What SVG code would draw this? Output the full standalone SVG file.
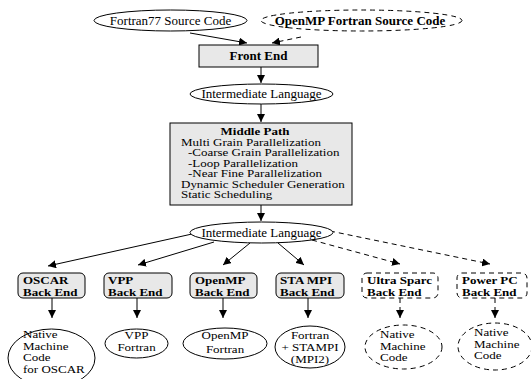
<svg xmlns="http://www.w3.org/2000/svg" width="531" height="379" viewBox="0 0 531 379">
<style>
text{font-family:"Liberation Serif","Times New Roman",serif;font-size:13px;fill:#000}
.b{font-weight:bold}
.c{text-anchor:middle}
.sh{fill:#fff;stroke:#000;stroke-width:1}
.g{fill:#e8e8e8;stroke:#000;stroke-width:1}
.d{stroke-dasharray:5,4}
.ln{stroke:#000;stroke-width:1;fill:none;marker-end:url(#ah)}
</style>
<defs>
<marker id="ah" viewBox="0 0 8 8" refX="8" refY="4" markerWidth="8" markerHeight="8" markerUnits="userSpaceOnUse" orient="auto">
<path d="M0,0 L8,4 L0,8 z" fill="#000"/>
</marker>
</defs>
<rect width="531" height="379" fill="#fff"/>
<g id="connectors">
<line class="ln" x1="190" y1="33" x2="247" y2="43"/>
<line class="ln d" x1="301" y1="37" x2="272" y2="43"/>
<line class="ln" x1="261" y1="67" x2="261" y2="83"/>
<line class="ln" x1="261" y1="104" x2="261" y2="122"/>
<line class="ln" x1="261" y1="205" x2="261" y2="221"/>
<line class="ln" x1="192" y1="234" x2="48" y2="266"/>
<line class="ln" x1="214" y1="242" x2="138" y2="265"/>
<line class="ln" x1="250" y1="243" x2="223" y2="265"/>
<line class="ln" x1="278" y1="243" x2="304" y2="265"/>
<line class="ln d" x1="312" y1="240" x2="400" y2="264"/>
<line class="ln d" x1="330" y1="231" x2="490" y2="264"/>
<line class="ln" x1="52" y1="298" x2="52" y2="318"/>
<line class="ln" x1="137" y1="298" x2="137" y2="318"/>
<line class="ln" x1="223" y1="298" x2="223" y2="318"/>
<line class="ln" x1="308" y1="298" x2="308" y2="318"/>
<line class="ln d" x1="400" y1="298" x2="400" y2="318"/>
<line class="ln d" x1="495" y1="298" x2="495" y2="318"/>
</g>
<g id="fortran77">
<ellipse class="sh" cx="170.5" cy="20.5" rx="76.5" ry="10.5"/>
<text class="c" x="170.5" y="24.5">Fortran77 Source Code</text>
</g>
<g id="openmp-source">
<ellipse class="sh d" cx="361.5" cy="20.5" rx="100.5" ry="10.5"/>
<text class="c b" x="360" y="24.5">OpenMP Fortran Source Code</text>
</g>
<g id="front-end">
<rect class="g" x="199" y="45" width="119" height="22"/>
<text class="c b" x="258.5" y="60">Front End</text>
</g>
<g id="il1">
<ellipse class="sh" cx="261.5" cy="94" rx="71.5" ry="10"/>
<text class="c" x="261.5" y="98">Intermediate Language</text>
</g>
<g id="middle-path">
<rect class="g" x="170" y="123" width="182" height="82"/>
<text class="c b" transform="translate(255,135) scale(1,.76)">Middle Path</text>
<text transform="translate(181,145.5) scale(1,.76)">Multi Grain Parallelization</text>
<text transform="translate(188,156) scale(1,.76)">-Coarse Grain Parallelization</text>
<text transform="translate(188,166.5) scale(1,.76)">-Loop Parallelization</text>
<text transform="translate(188,177) scale(1,.76)">-Near Fine Parallelization</text>
<text transform="translate(181,187.5) scale(1,.76)">Dynamic Scheduler Generation</text>
<text transform="translate(181,198) scale(1,.76)">Static Scheduling</text>
</g>
<g id="il2">
<ellipse class="sh" cx="261.5" cy="232.5" rx="71.5" ry="10.5"/>
<text class="c" x="261.5" y="236.5">Intermediate Language</text>
</g>
<g id="oscar-be">
<rect class="g" x="18" y="273" width="67" height="25" rx="5"/>
<text class="b" transform="translate(23,284) scale(1,.8)">OSCAR</text>
<text class="b" transform="translate(23,295.5) scale(1,.8)">Back End</text>
</g>
<g id="vpp-be">
<rect class="g" x="104" y="273" width="68" height="25" rx="5"/>
<text class="b" transform="translate(108,284) scale(1,.8)">VPP</text>
<text class="b" transform="translate(108,295.5) scale(1,.8)">Back End</text>
</g>
<g id="openmp-be">
<rect class="g" x="190" y="273" width="67" height="25" rx="5"/>
<text class="b" transform="translate(195,284) scale(1,.8)">OpenMP</text>
<text class="b" transform="translate(195,295.5) scale(1,.8)">Back End</text>
</g>
<g id="stampi-be">
<rect class="g" x="276" y="273" width="68" height="25" rx="5"/>
<text class="b" transform="translate(280,284) scale(1,.8)">STA MPI</text>
<text class="b" transform="translate(280,295.5) scale(1,.8)">Back End</text>
</g>
<g id="ultra-be">
<rect class="sh d" x="362" y="273" width="76" height="25" rx="5"/>
<text class="b" transform="translate(367,284) scale(1,.8)">Ultra Sparc</text>
<text class="b" transform="translate(367,295.5) scale(1,.8)">Back End</text>
</g>
<g id="power-be">
<rect class="sh d" x="457" y="273" width="70" height="25" rx="5"/>
<text class="b" transform="translate(462,284) scale(1,.8)">Power PC</text>
<text class="b" transform="translate(462,295.5) scale(1,.8)">Back End</text>
</g>
<g id="oscar-out">
<ellipse class="sh" cx="51.5" cy="358" rx="43.5" ry="29"/>
<text transform="translate(23,338) scale(1,.8)">Native</text>
<text transform="translate(23,349.5) scale(1,.8)">Machine</text>
<text transform="translate(23,361) scale(1,.8)">Code</text>
<text transform="translate(23,372.5) scale(1,.8)">for OSCAR</text>
</g>
<g id="vpp-out">
<ellipse class="sh" cx="136.5" cy="343.5" rx="31.5" ry="14.5"/>
<text class="c" transform="translate(136.5,339) scale(1,.8)">VPP</text>
<text class="c" transform="translate(136.5,351) scale(1,.8)">Fortran</text>
</g>
<g id="openmp-out">
<ellipse class="sh" cx="225" cy="343.5" rx="42" ry="15.5"/>
<text class="c" transform="translate(225,338.5) scale(1,.8)">OpenMP</text>
<text class="c" transform="translate(225,352.5) scale(1,.8)">Fortran</text>
</g>
<g id="stampi-out">
<ellipse class="sh" cx="310" cy="347" rx="35" ry="21"/>
<text class="c" transform="translate(310,339) scale(1,.8)">Fortran</text>
<text class="c" transform="translate(310,351) scale(1,.8)">+ STAMPI</text>
<text class="c" transform="translate(310,362.5) scale(1,.8)">(MPI2)</text>
</g>
<g id="ultra-out">
<ellipse class="sh d" cx="403.5" cy="347" rx="38.5" ry="22"/>
<text transform="translate(380,338) scale(1,.8)">Native</text>
<text transform="translate(380,349.5) scale(1,.8)">Machine</text>
<text transform="translate(380,361) scale(1,.8)">Code</text>
</g>
<g id="power-out">
<ellipse class="sh d" cx="495" cy="346.5" rx="37" ry="23.5"/>
<text transform="translate(474,336) scale(1,.8)">Native</text>
<text transform="translate(474,347.5) scale(1,.8)">Machine</text>
<text transform="translate(474,359) scale(1,.8)">Code</text>
</g>
</svg>
